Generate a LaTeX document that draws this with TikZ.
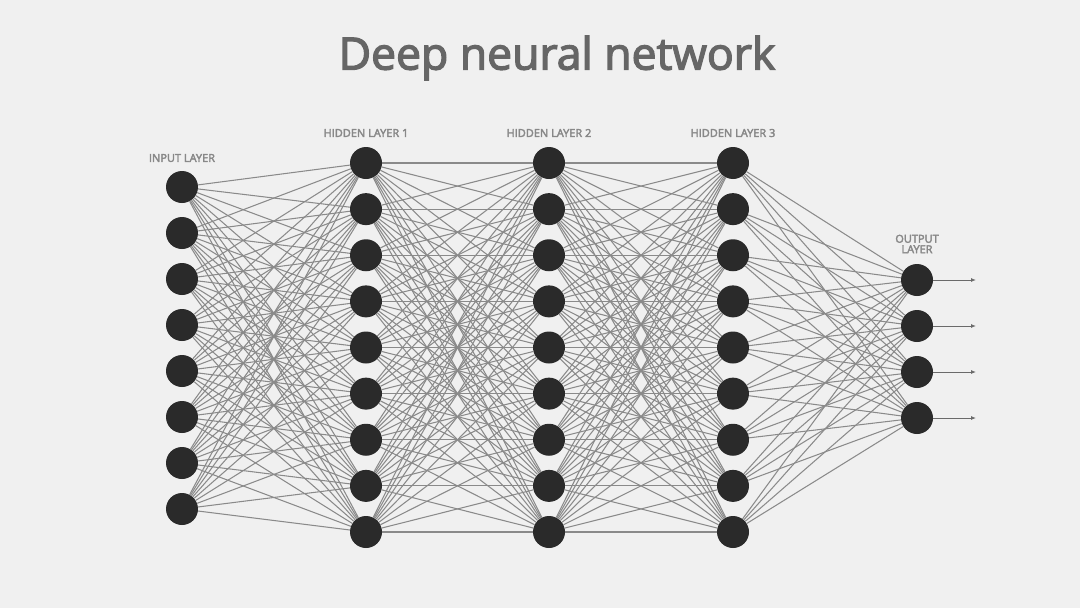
\documentclass[tikz,border=0pt]{standalone}
\usepackage{fontspec}
\setmainfont{Open Sans}
\usetikzlibrary{arrows.meta}
\definecolor{bg}{HTML}{F0F0F0}
\definecolor{neuron}{HTML}{2A2A2A}
\definecolor{edge}{HTML}{8A8A8A}
\definecolor{titlec}{HTML}{666666}
\definecolor{labelc}{HTML}{888888}
\newcommand{\strokedtext}[2]{\special{pdf:literal direct 2 Tr #1 w}#2\special{pdf:literal direct 0 Tr}}
\begin{document}
\begin{tikzpicture}[x=1pt,y=-1pt,
  neuronnode/.style={circle,fill=neuron,draw=none,minimum size=32pt,inner sep=0pt},
  conn/.style={draw=edge,line width=1.05pt},
  outarrow/.style={draw=neuron!70,line width=0.9pt,-{Latex[length=5pt,width=4pt]}},
  layerlabel/.style={text=labelc,font=\fontsize{11}{11.5}\selectfont,align=center}]
\fill[bg] (0,0) rectangle (1080,608);
\useasboundingbox (0,0) rectangle (1080,608);
\node[text=titlec,font=\fontsize{44.5}{46}\selectfont] (title) at (557,58) {\strokedtext{1.3}{Deep neural network}};
% layers
\foreach \i in {1,...,8} {\node[neuronnode] (a\i) at (182,{187+46*(\i-1)}) {};}
\foreach \i in {1,...,9} {
  \node[neuronnode] (b\i) at (366,{163+46.125*(\i-1)}) {};
  \node[neuronnode] (c\i) at (549,{163+46.125*(\i-1)}) {};
  \node[neuronnode] (d\i) at (733,{163+46.125*(\i-1)}) {};}
\foreach \i in {1,...,4} {\node[neuronnode] (e\i) at (917,{280+46*(\i-1)}) {};}
% connections
\foreach \i in {1,...,8} \foreach \j in {1,...,9} {\draw[conn] (a\i) -- (b\j);}
\foreach \i in {1,...,9} \foreach \j in {1,...,9} {\draw[conn] (b\i) -- (c\j); \draw[conn] (c\i) -- (d\j);}
\foreach \i in {1,...,9} \foreach \j in {1,...,4} {\draw[conn] (d\i) -- (e\j);}
\foreach \i in {1,...,4} {
  \coordinate (o\i) at (976,{280+46*(\i-1)});
  \draw[outarrow] (e\i) -- (o\i);}
% labels
\node[layerlabel] (l1) at (182,158) {\strokedtext{0.35}{INPUT LAYER}};
\node[layerlabel] (l2) at (366,133) {\strokedtext{0.35}{HIDDEN LAYER 1}};
\node[layerlabel] (l3) at (549,133) {\strokedtext{0.35}{HIDDEN LAYER 2}};
\node[layerlabel] (l4) at (733,133) {\strokedtext{0.35}{HIDDEN LAYER 3}};
\node[layerlabel] (l5) at (917,244) {\strokedtext{0.35}{OUTPUT}\\[-1pt]\strokedtext{0.35}{LAYER}};
\end{tikzpicture}
\end{document}
